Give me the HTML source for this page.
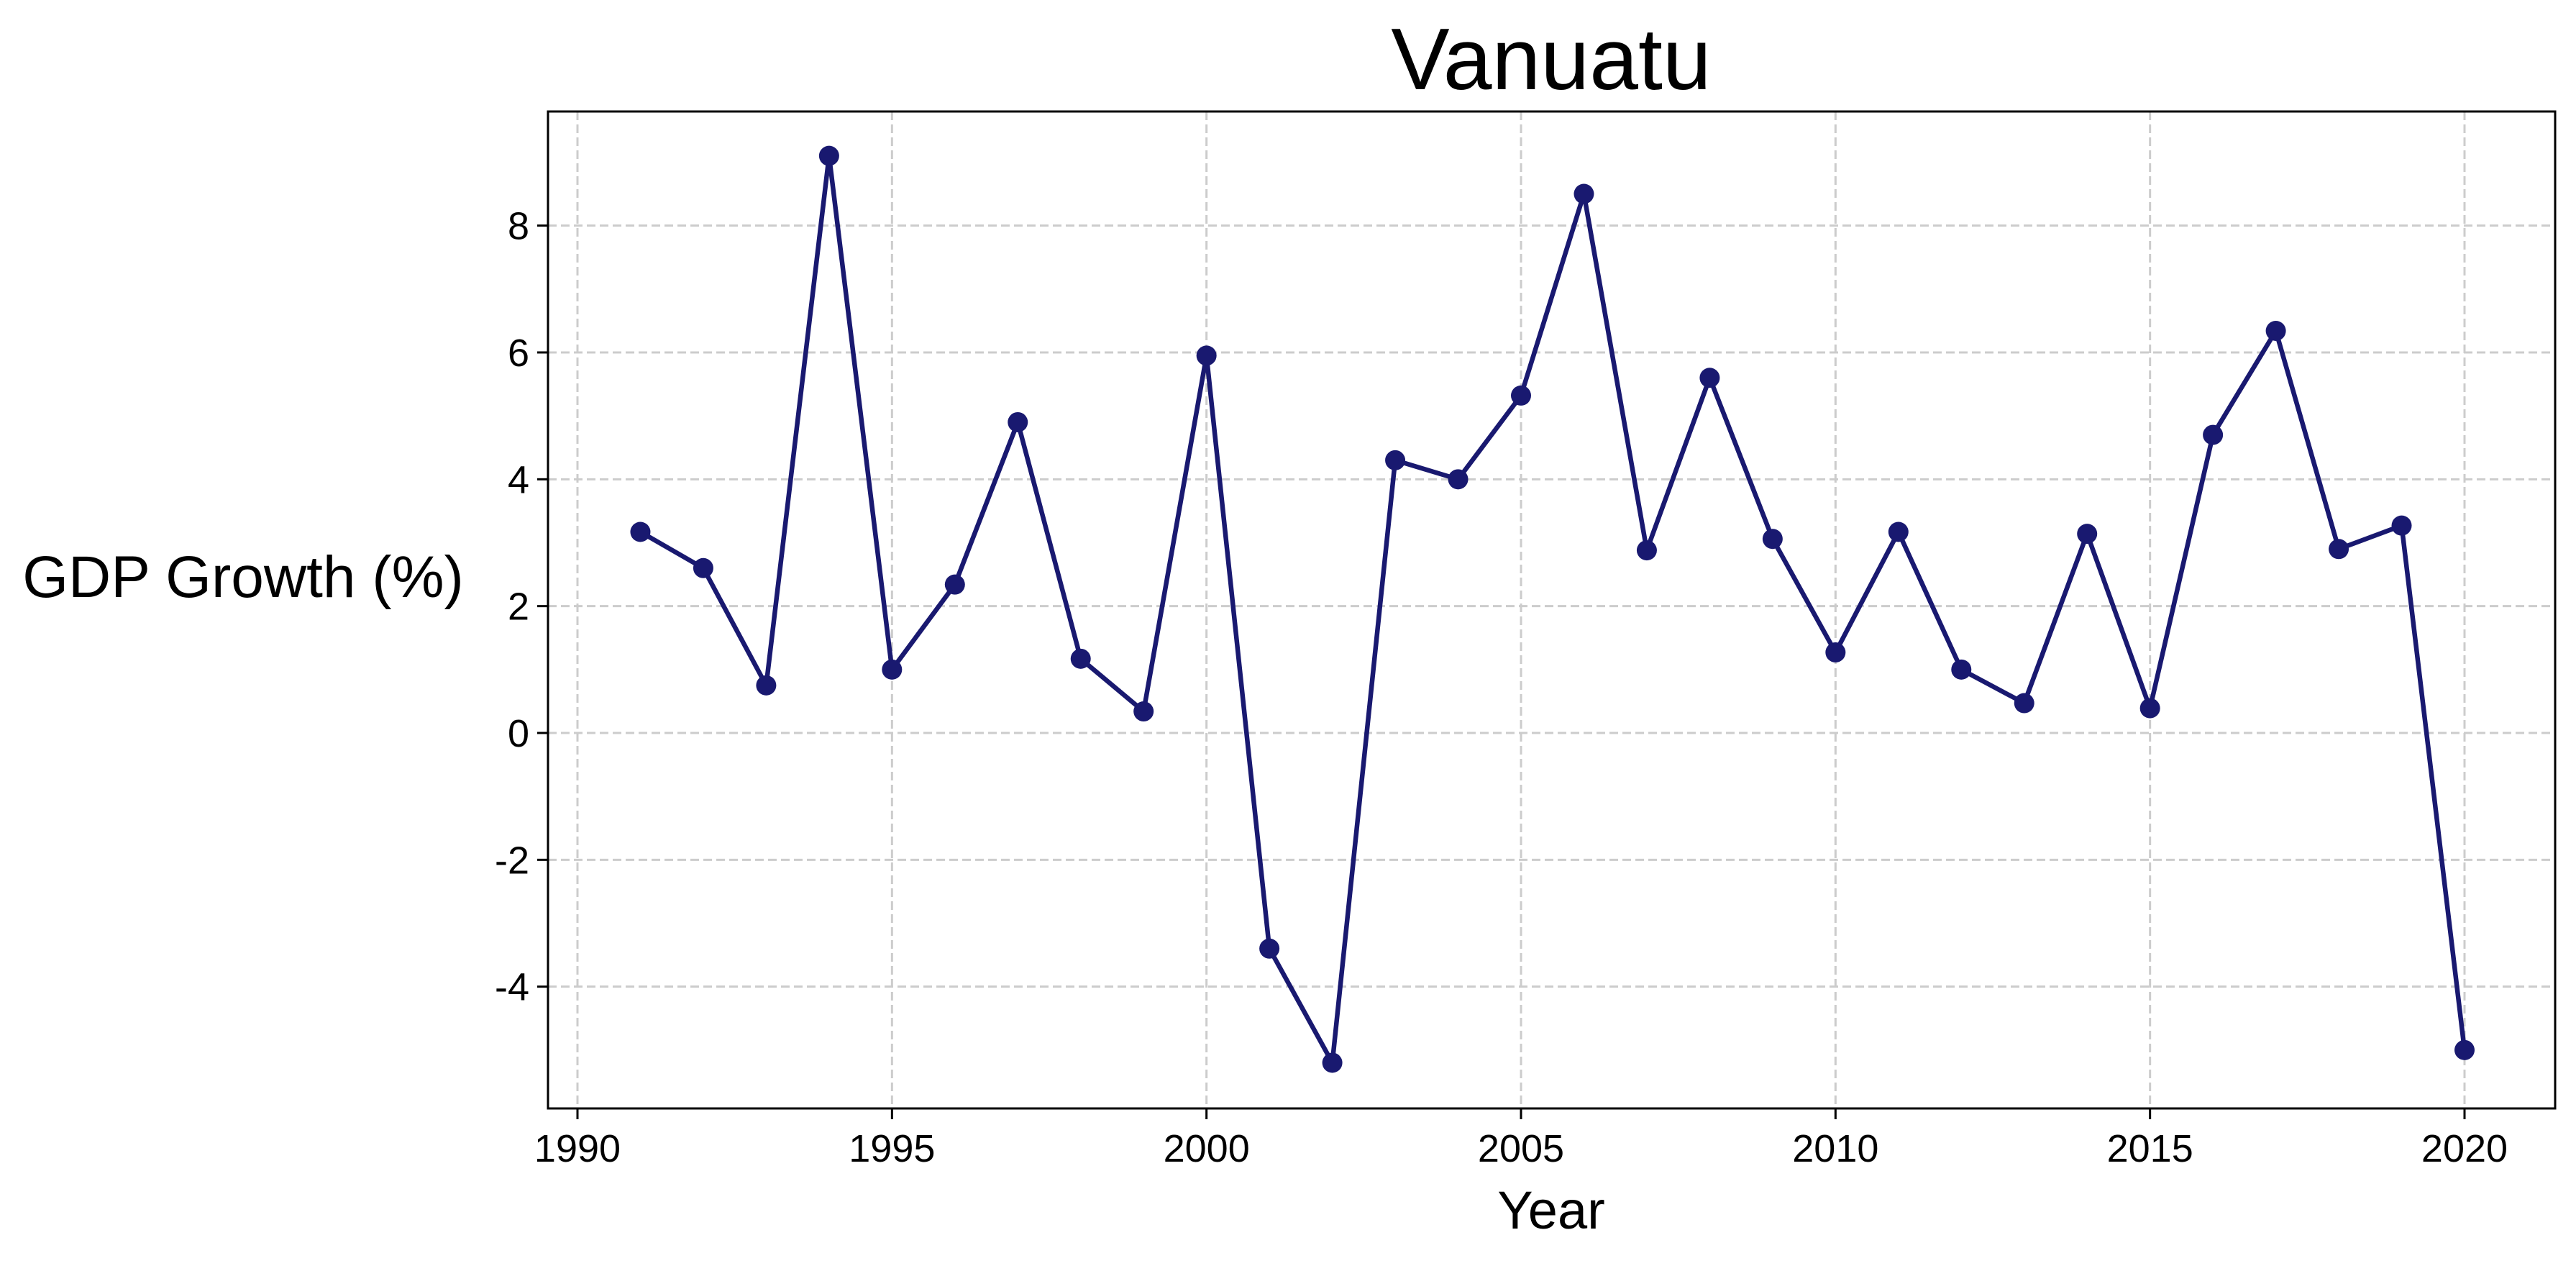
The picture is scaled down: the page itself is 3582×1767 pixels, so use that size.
<!DOCTYPE html>
<html><head><meta charset="utf-8"><style>
html,body{margin:0;padding:0;background:#fff;}
svg text{font-family:"Liberation Sans","Noto Sans CJK KR",sans-serif;fill:#000;}
</style></head><body>
<svg id="chart" width="3582" height="1762" viewBox="0 0 3582 1762" xmlns="http://www.w3.org/2000/svg">
<rect width="3582" height="1762" fill="#fff"/>
<g id="grid"></g>
<g id="axes"></g>
<g id="series"></g>
<text x="2157" y="124" font-size="122" text-anchor="middle">Vanuatu</text>
<text x="2157" y="1708" font-size="74" text-anchor="middle">Year</text>
<text x="338" y="830" font-size="82" text-anchor="middle">GDP Growth (%)</text>
</svg>
<script>
const years=[1991,1992,1993,1994,1995,1996,1997,1998,1999,2000,2001,2002,2003,2004,2005,2006,2007,2008,2009,2010,2011,2012,2013,2014,2015,2016,2017,2018,2019,2020];
const growth=[3.17,2.6,0.75,9.1,1.0,2.34,4.9,1.17,0.34,5.95,-3.4,-5.2,4.3,4.0,5.32,8.5,2.88,5.6,3.06,1.27,3.17,1.0,0.47,3.14,0.39,4.7,6.34,2.9,3.27,-5.0];
const xTicks=[1990,1995,2000,2005,2010,2015,2020];
const yTicks=[-4,-2,0,2,4,6,8];
const L=762,R=3553,T=155,B=1541;
const xs=v=>803+(v-1990)*(3427-803)/30;
const ys=v=>1019-v*88.17;
const NS="http://www.w3.org/2000/svg";
function mk(tag,attrs,parent){const e=document.createElementNS(NS,tag);for(const k in attrs)e.setAttribute(k,attrs[k]);parent.appendChild(e);return e;}
const grid=document.getElementById('grid'),axes=document.getElementById('axes'),ser=document.getElementById('series');
xTicks.forEach(t=>{
 const g=mk('line',{x1:xs(t),x2:xs(t),y1:T,y2:B,stroke:'#cccccc','stroke-width':3,'stroke-dasharray':'12 6'},grid);
 
 
 const tk=mk('line',{x1:xs(t),x2:xs(t),y1:B,y2:B+15,stroke:'#000','stroke-width':3},axes);
 
 
 const tx=mk('text',{x:xs(t),y:B+74,'font-size':54,'text-anchor':'middle'},axes);
 tx.textContent=t;
 
 
});
yTicks.forEach(t=>{
 const g=mk('line',{x1:L,x2:R,y1:ys(t),y2:ys(t),stroke:'#cccccc','stroke-width':3,'stroke-dasharray':'12 6'},grid);
 
 
 const tk=mk('line',{x1:L-15,x2:L,y1:ys(t),y2:ys(t),stroke:'#000','stroke-width':3},axes);
 
 
 const tx=mk('text',{x:L-26,y:ys(t)+19,'font-size':54,'text-anchor':'end'},axes);
 tx.textContent=t;
 
 
});
const fr=mk('rect',{x:L,y:T,width:R-L,height:B-T,fill:'none',stroke:'#000','stroke-width':3},axes);


const pl=mk('polyline',{points:years.map((y,i)=>xs(y)+','+ys(growth[i])).join(' '),fill:'none',stroke:'#191970','stroke-width':6.5,'stroke-linejoin':'round'},ser);


years.forEach((y,i)=>{
 const c=mk('circle',{cx:xs(y),cy:ys(growth[i]),r:14,fill:'#191970'},ser);
 
 
});
</script>
</body></html>
